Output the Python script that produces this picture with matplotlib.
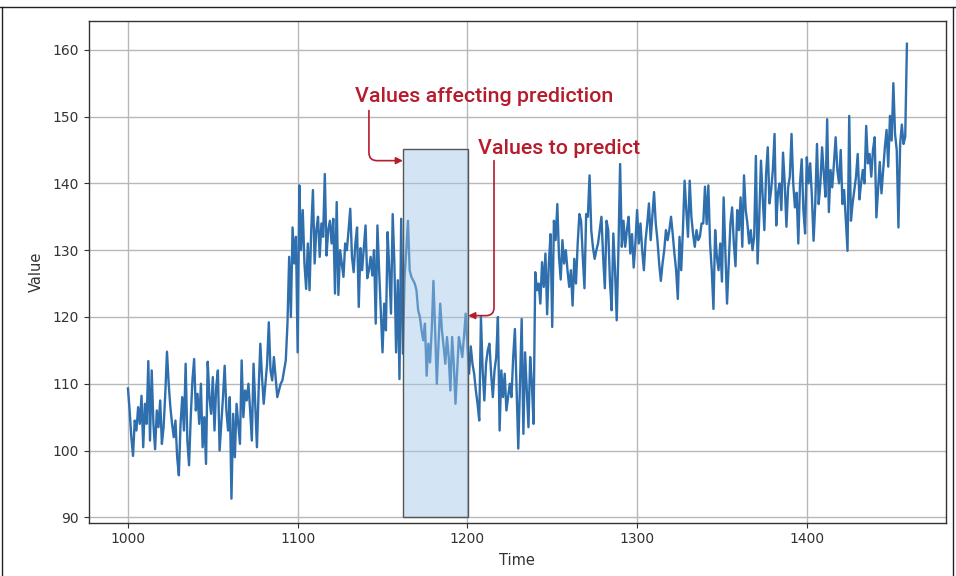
import numpy as np
import matplotlib
matplotlib.use("Agg")
import matplotlib.pyplot as plt
from matplotlib.patches import Rectangle
from matplotlib.lines import Line2D

# series, one value per time step starting at t=1000
start_time = 1000
values = [
    109.3, 106, 102, 99.2, 104.5, 103, 106.5, 104, 108.2, 100.5,
    107, 104, 113.4, 101.5, 112, 104, 100.2, 106, 103.5, 107.5,
    101, 103.5, 108.5, 114.8, 110, 106.5, 104, 102, 104.5, 99,
    96.3, 104, 108, 103, 113, 101.5, 97.8, 105, 110.5, 113.7,
    106, 108.5, 104, 110, 100.5, 105, 98, 113.3, 108, 105.5,
    111, 103, 109.5, 112, 100, 104, 108, 112.7, 106, 103,
    108, 92.8, 105.5, 99, 107, 104, 101, 113.5, 105, 109,
    107.5, 110, 106, 101.5, 113, 107, 100.5, 109, 116, 111,
    107, 110, 113, 119.2, 112, 110.5, 114, 111, 108, 109,
    110, 110.5, 112, 113.5, 119, 129, 120, 133.4, 128, 132,
    114.7, 139.7, 130, 136, 128, 124.2, 131, 124, 133, 139,
    128, 133, 135, 129, 134, 132, 141.4, 129.2, 133, 134.4,
    131, 134.7, 123.5, 137.2, 123.3, 130, 128, 126, 131, 130,
    133, 136.2, 129, 126.7, 131, 133.4, 121.5, 130.3, 127, 130.3,
    133.7, 125.8, 127, 129, 126.2, 130, 119, 133.7, 127, 121,
    114.7, 122, 118, 132.7, 127, 120.5, 135.4, 128, 114.7, 125.5,
    110.7, 134.7, 114.5, 126, 130, 134.4, 127, 126, 125.5, 125,
    124, 121, 120, 118, 116.5, 119, 111.2, 116, 113.2, 118,
    125.4, 118, 110, 116, 122, 118, 115.6, 113, 117, 114,
    109, 117, 113, 107, 112, 117, 115.6, 114, 117, 120.5,
    116, 111.5, 115.6, 113, 111.5, 109, 107, 104.5, 120, 112,
    107.5, 113, 115, 116, 111.5, 108, 112, 114, 120, 103,
    112, 108, 111.5, 106, 108, 110, 108, 114, 118.2, 109,
    100.3, 110, 119.7, 102.5, 114.7, 109, 103.5, 114, 110, 104,
    126.7, 124, 125, 122, 128.2, 124.5, 129.5, 120.4, 128, 132.4,
    118.5, 134.4, 131.5, 136.9, 129, 125.6, 131.5, 128, 130, 127,
    124.5, 127, 121.7, 128.7, 125, 131, 135.4, 134.4, 129, 124.3,
    135.4, 135, 141.2, 133, 130.4, 128.7, 130, 131, 133, 135,
    129, 124.3, 134.4, 133, 125.4, 121, 132.5, 127, 119.5, 130,
    142.9, 130.5, 134.4, 130.5, 133, 135, 129.5, 132.4, 127.4, 131,
    136, 131, 134, 130, 127, 131.5, 134, 137, 131.5, 135,
    138.7, 134, 131.5, 128, 125.4, 128, 130, 133, 131.5, 133,
    135, 132.4, 129.5, 127, 122.7, 132, 127, 133, 140.4, 136,
    132, 140.4, 135, 132.4, 130.5, 133, 131.5, 132, 134, 134,
    139.5, 133.9, 139.7, 131, 127, 121.2, 133, 129, 127, 131,
    125.3, 137.9, 130, 122, 128, 134, 136.4, 131, 127.6, 136,
    133, 137.9, 130.5, 141.2, 136, 134, 131, 133, 130, 132,
    144.1, 128, 135, 143.4, 138, 133, 141.4, 145.4, 137, 139,
    142, 147.4, 133.7, 138.6, 140, 136, 144.6, 140, 133.5, 139.4,
    141, 147.4, 140, 136.4, 138.6, 131, 140, 143.6, 136, 132.5,
    143.9, 140, 143, 138, 131.4, 137, 145.9, 136.9, 140, 145.4,
    141.5, 138, 149.6, 135.7, 142, 139.4, 143, 146.9, 142, 140,
    145, 136.9, 139, 134.4, 129.9, 150.1, 134.4, 137, 139, 141,
    144.4, 137.6, 140, 142, 140, 148.6, 143, 144.4, 141, 145,
    146.9, 134.9, 139, 143.2, 138.5, 142, 145.4, 148, 142.5, 150.1,
    146.4, 155, 147.4, 145, 133.4, 145.9, 148.8, 145.9, 147, 160.9,
]
time = start_time + np.arange(len(values))

# window shown as a box
window_x = [1162, 1200.5]
window_y = [90, 145.2]

x_ticks = [1000, 1100, 1200, 1300, 1400]
y_ticks = [90, 100, 110, 120, 130, 140, 150, 160]

label_affect = "Values affecting prediction"
label_predict = "Values to predict"
red = "#b51c2c"
note_font = ["Roboto", "DejaVu Sans"]

fig = plt.figure(figsize=(9.56, 5.76), dpi=100)
ax = fig.add_axes([0.093, 0.0925, 0.8965, 0.871])

ax.plot(time, values, color="#2f6fad", lw=1.7, zorder=2)
ax.add_patch(Rectangle((window_x[0], window_y[0]), window_x[1] - window_x[0],
                       window_y[1] - window_y[0], facecolor=(0.62, 0.78, 0.91),
                       alpha=0.45, edgecolor="none", zorder=3))
ax.add_patch(Rectangle((window_x[0], window_y[0]), window_x[1] - window_x[0],
                       window_y[1] - window_y[0], facecolor="none",
                       edgecolor="#555555", lw=1.0, zorder=4))

ax.set_xlim(977, 1482)
ax.set_ylim(89.2, 164.3)
ax.set_xticks(x_ticks)
ax.set_yticks(y_ticks)
ax.grid(True, color="#b8b8b8", lw=1.0)
ax.set_axisbelow(True)
ax.tick_params(labelsize=10, colors="#333333", length=3.5)
for s in ax.spines.values():
    s.set_color("#333333")
    s.set_linewidth(1.0)
ax.set_xlabel("Time", fontsize=10.5, color="#333333", labelpad=5)
ax.set_ylabel("Value", fontsize=10.5, color="#333333", labelpad=6)

# red notes with bent arrows
ax.text(1133.8, 153, label_affect, color=red, fontsize=15.4, family=note_font,
        weight="medium", va="center", ha="left", zorder=6)
ax.text(1206.2, 145.2, label_predict, color=red, fontsize=15.4, family=note_font,
        weight="medium", va="center", ha="left", zorder=6)
ax.annotate("", xy=(window_x[0], 143.4), xytext=(1142, 150.9),
            arrowprops=dict(arrowstyle="-|>", color=red, lw=1.2,
                            shrinkA=0, shrinkB=0, mutation_scale=10,
                            connectionstyle="angle,angleA=90,angleB=0,rad=8"),
            zorder=6)
ax.annotate("", xy=(window_x[1], 120.2), xytext=(1215.7, 143.4),
            arrowprops=dict(arrowstyle="-|>", color=red, lw=1.2,
                            shrinkA=0, shrinkB=0, mutation_scale=10,
                            connectionstyle="angle,angleA=90,angleB=0,rad=8"),
            zorder=6)

# page frame around the figure
for xs, ys in [([0.0, 1.0], [0.988, 0.988]), ([0.002, 0.002], [0.0, 0.988]),
               ([0.997, 0.997], [0.0, 0.988])]:
    fig.add_artist(Line2D(xs, ys, transform=fig.transFigure, color="#222222", lw=1.0))

fig.savefig("out.png", dpi=100)
